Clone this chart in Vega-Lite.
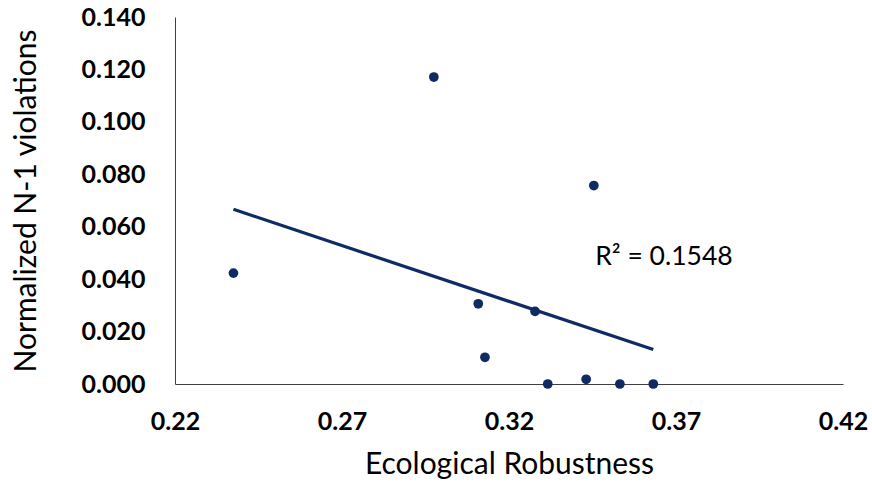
{
  "$schema": "https://vega.github.io/schema/vega-lite/v6.json",
  "autosize": {"type": "none"},
  "width": 668,
  "height": 367,
  "padding": {"left": 175, "top": 17, "right": 29, "bottom": 106},
  "background": "white",
  "config": {
    "view": {"stroke": null},
    "font": "Lato"
  },
  "datasets": {
    "pts": [
      {"robustness": 0.2375, "violations": 0.0423},
      {"robustness": 0.2975, "violations": 0.1171},
      {"robustness": 0.3108, "violations": 0.0306},
      {"robustness": 0.3128, "violations": 0.0102},
      {"robustness": 0.3278, "violations": 0.0277},
      {"robustness": 0.3316, "violations": 0.0},
      {"robustness": 0.3431, "violations": 0.0018},
      {"robustness": 0.3454, "violations": 0.0757},
      {"robustness": 0.3532, "violations": 0.0},
      {"robustness": 0.3632, "violations": 0.0}
    ],
    "note": [
      {"robustness": 0.3458, "violations": 0.0486, "label": "R² = 0.1548"}
    ]
  },
  "layer": [
    {
      "data": {"name": "pts"},
      "transform": [{"regression": "violations", "on": "robustness"}],
      "mark": {"type": "line", "color": "#0e2b63", "strokeWidth": 3.2},
      "encoding": {
        "x": {
          "field": "robustness", "type": "quantitative",
          "scale": {"domain": [0.22, 0.42], "zero": false, "nice": false},
          "axis": {
            "title": "Ecological Robustness",
            "values": [0.22, 0.27, 0.32, 0.37, 0.42],
            "format": ".2f",
            "grid": false, "ticks": false, "labelFlush": false,
            "domainColor": "#404040", "domainWidth": 1,
            "labelFont": "Lato", "labelFontSize": 25, "labelFontWeight": "bold", "labelColor": "#000000",
            "labelPadding": 25,
            "titleFont": "Lato", "titleFontSize": 30, "titleFontWeight": "normal", "titleColor": "#000000",
            "titlePadding": 15
          }
        },
        "y": {
          "field": "violations", "type": "quantitative",
          "scale": {"domain": [0, 0.14], "nice": false},
          "axis": {
            "title": "Normalized N-1 violations",
            "values": [0, 0.02, 0.04, 0.06, 0.08, 0.1, 0.12, 0.14],
            "format": ".3f",
            "grid": false, "ticks": false, "labelFlush": false,
            "domainColor": "#404040", "domainWidth": 1,
            "labelFont": "Lato", "labelFontSize": 25, "labelFontWeight": "bold", "labelColor": "#000000",
            "labelPadding": 30,
            "titleFont": "Lato", "titleFontSize": 30, "titleFontWeight": "normal", "titleColor": "#000000",
            "titlePadding": 40
          }
        }
      }
    },
    {
      "data": {"name": "pts"},
      "mark": {"type": "circle", "color": "#0e2b63", "opacity": 1, "size": 95},
      "encoding": {
        "x": {"field": "robustness", "type": "quantitative"},
        "y": {"field": "violations", "type": "quantitative"}
      }
    },
    {
      "data": {"name": "note"},
      "mark": {"type": "text", "align": "left", "baseline": "middle", "fontSize": 26.5, "font": "Lato", "color": "#000000"},
      "encoding": {
        "x": {"field": "robustness", "type": "quantitative"},
        "y": {"field": "violations", "type": "quantitative"},
        "text": {"field": "label"}
      }
    }
  ]
}
